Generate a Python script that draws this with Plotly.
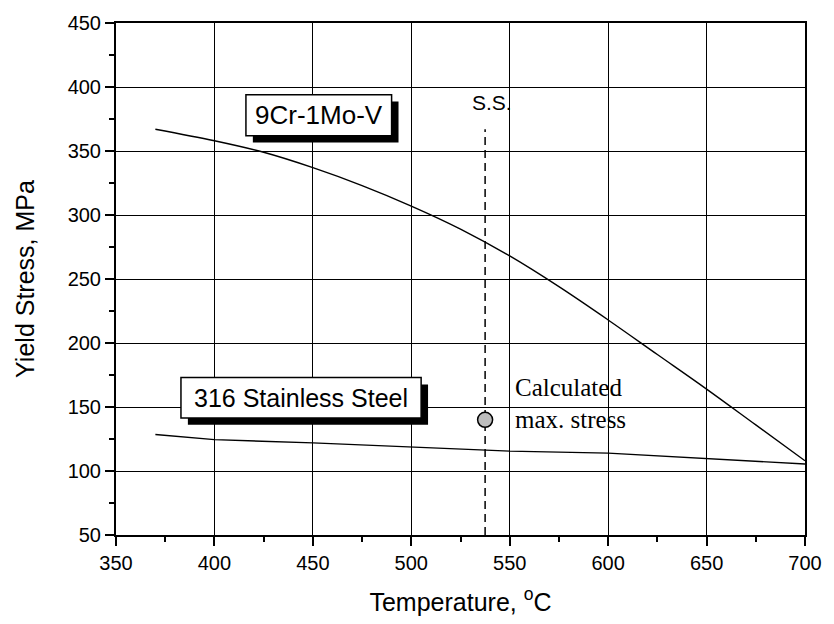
import plotly.graph_objects as go

# ---- data ----
temp_9cr = [370, 400, 425, 450, 475, 500, 525, 550, 575, 600, 625, 650, 675, 700]
yield_9cr = [367, 358, 349, 337, 323, 307, 289, 268, 244, 218, 191, 164, 136, 108]

temp_316 = [370, 400, 450, 500, 550, 600, 650, 700]
yield_316 = [128.5, 124.5, 122, 118.5, 115.5, 114, 110, 105.5]

ss_temp = 537.5          # steady-state temperature
ss_line_y = [50, 367]
calc_temp = [537.5]
calc_stress = [140]

x_ticks = [350, 400, 450, 500, 550, 600, 650, 700]
y_ticks = [50, 100, 150, 200, 250, 300, 350, 400, 450]

FONT = "Liberation Sans, Arial, sans-serif"
SERIF = "Liberation Serif, Times New Roman, serif"

fig = go.Figure()
fig.add_trace(go.Scatter(x=temp_9cr, y=yield_9cr, mode="lines", line_shape="spline",
                         line=dict(color="black", width=1.4), showlegend=False))
fig.add_trace(go.Scatter(x=temp_316, y=yield_316, mode="lines",
                         line=dict(color="black", width=1.4), showlegend=False))
fig.add_trace(go.Scatter(x=[ss_temp, ss_temp], y=ss_line_y, mode="lines",
                         line=dict(color="black", width=1.5, dash="8px,5px"),
                         showlegend=False))
fig.add_trace(go.Scatter(x=calc_temp, y=calc_stress, mode="markers",
                         marker=dict(size=15, color="#bdbdbd",
                                     line=dict(color="black", width=1.5)),
                         showlegend=False))

# px -> data conversion helpers for decoration offsets
px_x = 350 / 697.0
px_y = 400 / 520.0
sx, sy = 7 * px_x, 7 * px_y

boxes = [
    dict(x0=416, x1=490, y0=362, y1=394, text="9Cr-1Mo-V", size=26),
    dict(x0=383, x1=505, y0=141.5, y1=173, text="316 Stainless Steel", size=25),
]
shapes = []
annotations = []
for b in boxes:
    shapes.append(dict(type="rect", xref="x", yref="y",
                       x0=b["x0"] + sx, x1=b["x1"] + sx,
                       y0=b["y0"] - sy, y1=b["y1"] - sy,
                       fillcolor="black", line=dict(width=0), layer="above"))
    shapes.append(dict(type="rect", xref="x", yref="y",
                       x0=b["x0"], x1=b["x1"], y0=b["y0"], y1=b["y1"],
                       fillcolor="white", line=dict(color="black", width=1.5),
                       layer="above"))
    annotations.append(dict(x=(b["x0"] + b["x1"]) / 2, y=(b["y0"] + b["y1"]) / 2,
                            xref="x", yref="y", text=b["text"], showarrow=False,
                            font=dict(family=FONT, size=b["size"], color="black")))

annotations.append(dict(x=ss_temp + 3.5, y=388, xref="x", yref="y", text="S.S.",
                        showarrow=False, xanchor="center",
                        font=dict(family=FONT, size=21, color="black")))
annotations.append(dict(x=551.5, y=165, xref="x", yref="y", text="Calculated",
                        showarrow=False, xanchor="left",
                        font=dict(family=SERIF, size=25, color="black")))
annotations.append(dict(x=551.5, y=140, xref="x", yref="y", text="max. stress",
                        showarrow=False, xanchor="left",
                        font=dict(family=SERIF, size=25, color="black")))

axis_common = dict(showline=True, linecolor="black", linewidth=2, mirror=True,
                   showgrid=True, gridcolor="black", gridwidth=1.3,
                   ticks="outside", ticklen=9, tickwidth=1.5, tickcolor="black",
                   zeroline=False,
                   tickfont=dict(family=FONT, size=20, color="black"))

fig.update_layout(
    width=834, height=624,
    margin=dict(l=116, r=21, t=15, b=89),
    paper_bgcolor="white", plot_bgcolor="white",
    shapes=shapes, annotations=annotations,
    xaxis=dict(range=[350, 700], tickvals=x_ticks,
               minor=dict(dtick=25, ticks="outside", ticklen=5, tickcolor="black",
                          showgrid=False),
               title=dict(text="Temperature, <sup>o</sup>C", standoff=20,
                          font=dict(family=FONT, size=25, color="black")),
               **axis_common),
    yaxis=dict(range=[50, 450], tickvals=y_ticks,
               minor=dict(dtick=25, ticks="outside", ticklen=5, tickcolor="black",
                          showgrid=False),
               title=dict(text="Yield Stress, MPa", standoff=26,
                          font=dict(family=FONT, size=25, color="black")),
               **axis_common),
)

fig.write_html("out.html")
